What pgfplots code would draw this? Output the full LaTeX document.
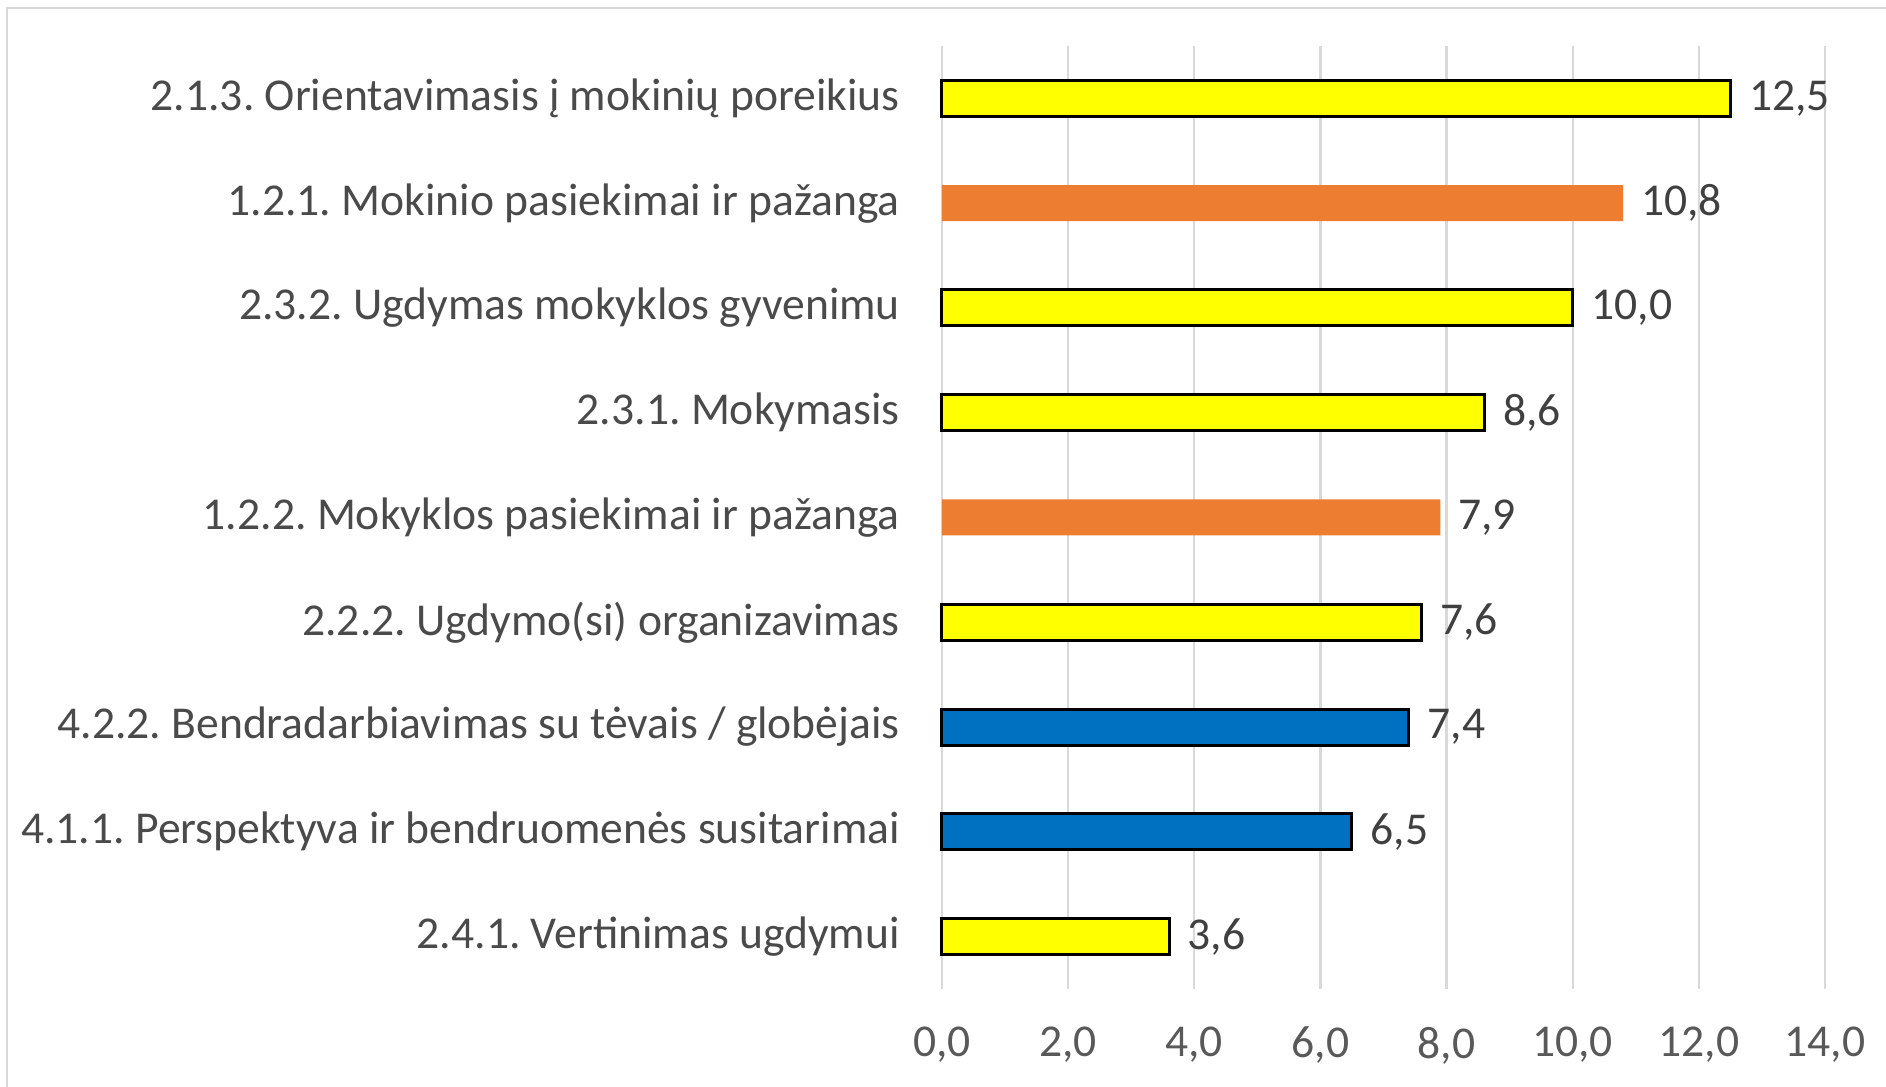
\documentclass[border=0pt]{standalone}
\usepackage{fontspec}
\setmainfont{Carlito}
\usepackage{pgfplots}
\pgfplotsset{compat=1.18}
\definecolor{txt}{HTML}{404040}
\definecolor{labtxt}{HTML}{4A4A4A}
\definecolor{ticktxt}{HTML}{595959}
\definecolor{gridc}{HTML}{D9D9D9}
\definecolor{barY}{HTML}{FFFF00}
\definecolor{barO}{HTML}{ED7D31}
\definecolor{barB}{HTML}{0070C0}
\begin{document}
\frenchspacing
\begin{tikzpicture}
\path[use as bounding box] (-235.5pt,-24.5pt) rectangle (236pt,247.25pt);
\draw[gridc, line width=0.7pt] (-233.75pt,-24.5pt) -- (-233.75pt,245.25pt) -- (236pt,245.25pt);
\begin{axis}[
  at={(0,0)}, anchor=south west, scale only axis,
  width=220.75pt, height=235.75pt,
  xbar, bar width=9pt, bar shift=0pt,
  xmin=0, xmax=14, ymin=-0.5, ymax=8.5,
  xtick={0,2,...,14},
  ytick={0,...,8},
  yticklabels={
    2.4.1. Vertinimas ugdymui,
    4.1.1. Perspektyva ir bendruomenės susitarimai,
    4.2.2. Bendradarbiavimas su tėvais / globėjais,
    2.2.2. Ugdymo(si) organizavimas,
    1.2.2. Mokyklos pasiekimai ir pažanga,
    2.3.1. Mokymasis,
    2.3.2. Ugdymas mokyklos gyvenimu,
    1.2.1. Mokinio pasiekimai ir pažanga,
    2.1.3. Orientavimasis į mokinių poreikius},
  xmajorgrids, grid style={draw=gridc, line width=0.6pt},
  axis line style={draw=none},
  major tick length=0pt,
  font=\fontsize{11.4}{13.5}\selectfont,
  yticklabel style={labtxt, anchor=east, xshift=-7pt},
  xticklabel style={ticktxt, yshift=-6pt,
    /pgf/number format/.cd, fixed, fixed zerofill, precision=1, use comma, assume math mode=true},
  nodes near coords={\pgfmathprintnumber[fixed,fixed zerofill,precision=1,use comma,assume math mode=true]{\pgfplotspointmeta}},
  nodes near coords style={txt, font=\fontsize{11.4}{13.5}\selectfont, xshift=1pt},
  clip=false,
]
\addplot[fill=barY, draw=black, line width=0.75pt] coordinates {
  (12.5,8) (10.0,6) (8.6,5) (7.6,3) (3.6,0)
};
\addplot[fill=barO, draw=none] coordinates {
  (10.8,7) (7.9,4)
};
\addplot[fill=barB, draw=black, line width=0.75pt] coordinates {
  (7.4,2) (6.5,1)
};
\end{axis}
\end{tikzpicture}
\end{document}
